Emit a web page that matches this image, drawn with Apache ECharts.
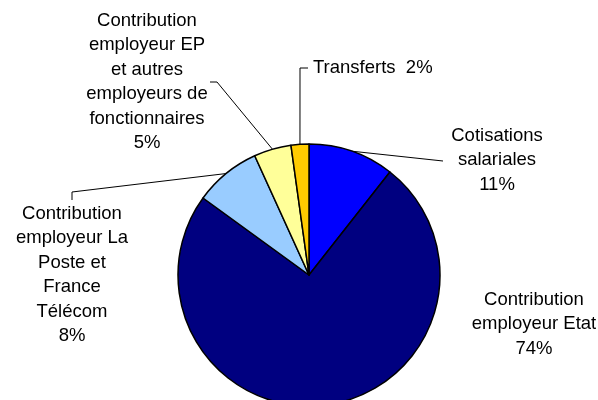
<!DOCTYPE html>
<html><head><meta charset="utf-8">
<script src="https://cdn.jsdelivr.net/npm/echarts@6/dist/echarts.min.js"></script>
<style>html,body{margin:0;padding:0;background:#fff}#chart{width:598px;height:400px}</style>
</head><body><div id="chart"></div>
<script>
// ---- data ----
const categories = [
  'Cotisations\nsalariales',
  'Contribution\nemployeur Etat',
  'Contribution\nemployeur La\nPoste et\nFrance\nTélécom',
  'Contribution\nemployeur EP\net autres\nemployeurs de\nfonctionnaires',
  'Transferts'
];
const values = [10.6, 74.4, 8.2, 4.6, 2.2];

// ---- styles / layout ----
const colors = ['#0000FF', '#000080', '#99CCFF', '#FFFF99', '#FFCC00'];
const labelLayoutCfg = [
  { x: 497, y: 160, align: 'center', line: [[443, 161], [443, 161]], showLine: true, sep: '\n' },
  { x: 534, y: 324, align: 'center', line: null, showLine: false, sep: '\n' },
  { x: 72, y: 275, align: 'center', line: [[72, 192], [72, 200]], showLine: true, sep: '\n' },
  { x: 147, y: 82, align: 'center', line: [[217, 82], [210, 82]], showLine: true, sep: '\n' },
  { x: 313, y: 68, align: 'left', line: [[300, 68], [308, 68]], showLine: true, sep: '  ' }
];

const chart = echarts.init(document.getElementById('chart'), null, { renderer: 'canvas' });
chart.setOption({
  backgroundColor: '#ffffff',
  animation: false,
  series: [{
    type: 'pie',
    center: [309, 275],
    radius: 131,
    startAngle: 90,
    clockwise: true,
    avoidLabelOverlap: false,
    itemStyle: { borderColor: '#000', borderWidth: 1.5 },
    label: {
      show: true,
      position: 'outside',
      color: '#000',
      fontFamily: 'Liberation Sans, Arial, sans-serif',
      fontSize: 18.5,
      lineHeight: 24.5,
      formatter: function (p) {
        return p.name + labelLayoutCfg[p.dataIndex].sep + Math.round(p.value) + '%';
      }
    },
    labelLine: { show: true, lineStyle: { color: '#000', width: 1 }, length: 10, length2: 10 },
    labelLayout: function (p) {
      const cfg = labelLayoutCfg[p.dataIndex];
      const res = { x: cfg.x, y: cfg.y, align: cfg.align, verticalAlign: 'middle' };
      if (cfg.line && p.labelLinePoints) {
        res.labelLinePoints = [p.labelLinePoints[0], cfg.line[0], cfg.line[1]];
      }
      return res;
    },
    data: categories.map(function (c, i) {
      return {
        name: c,
        value: values[i],
        itemStyle: { color: colors[i] },
        labelLine: { show: labelLayoutCfg[i].showLine }
      };
    })
  }]
});
</script>
</body></html>
